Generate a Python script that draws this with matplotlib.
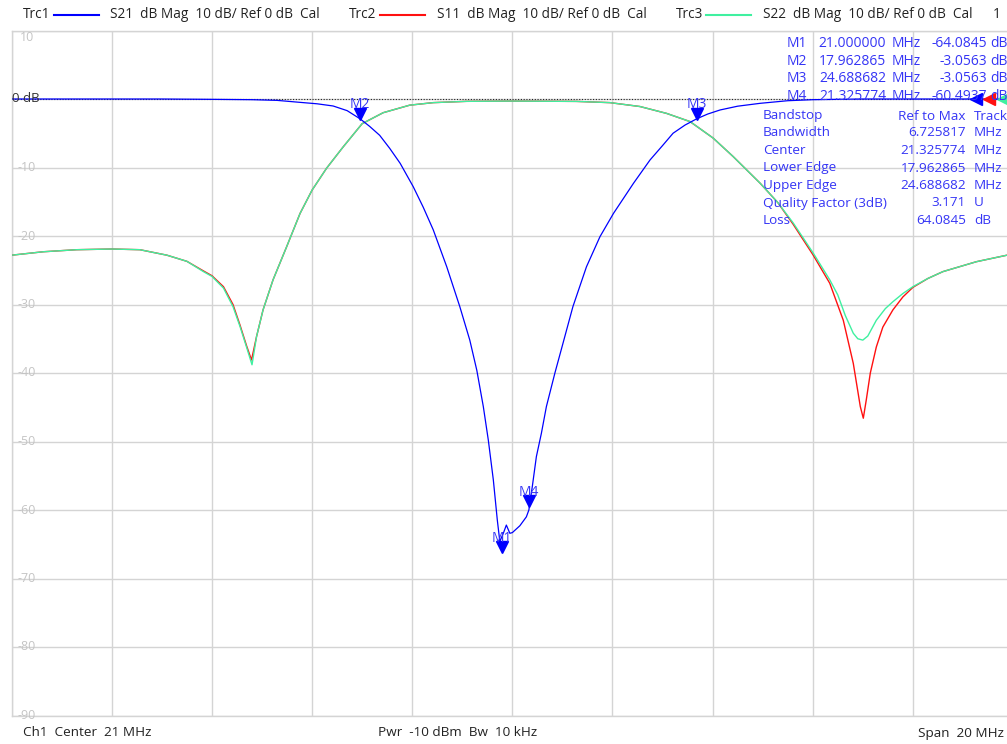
import numpy as np
import matplotlib
matplotlib.use("Agg")
import matplotlib.pyplot as plt
from matplotlib.lines import Line2D
from matplotlib.transforms import ScaledTranslation

plt.rcParams['font.family'] = ['Open Sans', 'DejaVu Sans']

# trace data (MHz, dB)
s21_f = [11.0, 12.0, 13.0, 14.0, 15.0, 15.8, 16.3, 16.76, 17.1, 17.42, 17.7, 17.96,
         18.15, 18.35, 18.55, 18.76, 19.02, 19.22, 19.42, 19.69, 19.95, 20.15, 20.29,
         20.42, 20.52, 20.62, 20.70, 20.75, 20.83, 20.88, 20.95, 21.00, 21.15, 21.28,
         21.33, 21.40, 21.48, 21.58, 21.68, 21.85, 22.01, 22.21, 22.48, 22.75, 23.02,
         23.42, 23.75, 24.0, 24.21, 24.45, 24.68, 24.9, 25.15, 25.5, 25.95, 26.5, 27.0,
         28.0, 29.0, 30.0, 31.0]
s21_db = [0.0, 0.0, 0.0, 0.0, -0.05, -0.1, -0.2, -0.49, -0.7, -1.02, -1.7, -2.9,
          -4.0, -5.3, -7.2, -9.4, -12.8, -15.8, -19.1, -24.5, -30.3, -35.2, -39.6,
          -44.9, -49.8, -55.6, -61.5, -64.6, -63.2, -62.2, -63.4, -63.3, -62.3, -61.0,
          -60.0, -56.5, -52.2, -48.8, -44.9, -40.0, -35.7, -30.3, -24.5, -20.1, -16.7,
          -12.3, -8.9, -6.8, -5.0, -3.8, -2.9, -2.2, -1.6, -1.05, -0.63, -0.25, -0.1,
          0.0, 0.0, 0.0, 0.0]

s11_f = [11.0, 11.63, 12.3, 13.0, 13.56, 14.1, 14.5, 14.83, 15.0, 15.23, 15.42, 15.56,
         15.69, 15.79, 15.89, 16.02, 16.22, 16.49, 16.76, 17.0, 17.29, 17.62, 18.0,
         18.42, 18.95, 19.42, 20.09, 21.0, 22.28, 22.95, 23.55, 24.08, 24.55, 25.01,
         25.41, 25.95, 26.3, 26.61, 27.01, 27.34, 27.61, 27.81, 27.95, 28.01, 28.07,
         28.15, 28.27, 28.4, 28.6, 28.8, 29.0, 29.3, 29.6, 30.27, 30.88, 31.0]
s11_db = [-22.8, -22.3, -22.0, -21.9, -22.0, -22.8, -23.7, -25.1, -25.8, -27.4, -30.0, -33.0,
          -36.0, -38.1, -34.7, -30.8, -26.4, -21.6, -16.7, -13.3, -10.1, -7.0, -3.6,
          -2.0, -0.9, -0.53, -0.34, -0.3, -0.35, -0.53, -1.1, -2.1, -3.3, -5.7,
          -8.4, -12.3, -15.1, -18.3, -22.8, -26.9, -32.3, -38.6, -44.9, -46.6, -43.9,
          -40.0, -36.2, -33.3, -30.8, -28.9, -27.5, -26.2, -25.2, -23.75, -22.8, -22.7]

s22_f = [11.0, 11.63, 12.3, 13.0, 13.56, 14.1, 14.5, 14.83, 15.0, 15.23, 15.42, 15.56,
         15.69, 15.8, 15.89, 16.02, 16.22, 16.49, 16.76, 17.0, 17.29, 17.62, 18.0,
         18.42, 18.95, 19.42, 20.09, 21.0, 22.28, 22.95, 23.55, 24.08, 24.55, 25.01,
         25.41, 25.95, 26.3, 26.61, 27.01, 27.34, 27.5, 27.65, 27.81, 27.9, 28.0, 28.1,
         28.27, 28.45, 28.6, 28.8, 29.0, 29.3, 29.6, 30.27, 30.88, 31.0]
s22_db = [-22.8, -22.3, -22.0, -21.9, -22.0, -22.8, -23.7, -25.2, -25.9, -27.6, -30.3, -33.2,
          -36.2, -38.8, -34.7, -30.8, -26.4, -21.6, -16.7, -13.3, -10.1, -7.0, -3.6,
          -2.0, -0.9, -0.53, -0.34, -0.3, -0.35, -0.53, -1.1, -2.1, -3.3, -5.7,
          -8.4, -12.3, -15.1, -18.1, -22.5, -26.4, -28.6, -31.6, -34.2, -35.0, -35.2, -34.6,
          -32.3, -30.6, -29.6, -28.4, -27.4, -26.2, -25.2, -23.75, -22.8, -22.7]

# markers as drawn on screen (tip of triangle)
mk_names = ["M1", "M2", "M3", "M4"]
mk_f = [20.80, 17.96, 24.69, 21.33]
mk_db = [-66.3, -3.05, -3.05, -59.6]

# marker readout table
tbl_name = ["M1", "M2", "M3", "M4"]
tbl_freq = ["21.000000", "17.962865", "24.688682", "21.325774"]
tbl_val = ["-64.0845", "-3.0563", "-3.0563", "-60.4937"]

bs_labels = ["Bandstop", "Bandwidth", "Center", "Lower Edge", "Upper Edge",
             "Quality Factor (3dB)", "Loss"]
bs_values = ["Ref to Max", "6.725817", "21.325774", "17.962865", "24.688682", "3.171", "64.0845"]
bs_units = ["Track", "MHz", "MHz", "MHz", "MHz", "U", "dB"]

y_ticks = [10, 0, -10, -20, -30, -40, -50, -60, -70, -80, -90]

BLUE = '#0000ff'
RED = '#ff1010'
GREEN = '#3ff0a0'
TXT_BLUE = '#3535f5'
GRID = '#d4d4d4'

W, H = 1007, 744
fig = plt.figure(figsize=(W / 100, H / 100), dpi=100)

def px(x, y):
    return x / W, 1 - y / H

# plot area: 11.7..1013 px wide (cut at the right), 30.5..715.5 px tall
ax = fig.add_axes([11.7 / W, 1 - 715.5 / H, 1001.3 / W, 685 / H])
ax.set_xlim(11, 31)
ax.set_ylim(-90, 10)
ax.set_xticks(np.arange(11, 32, 2))
ax.set_yticks(y_ticks)
ax.grid(True, color=GRID, lw=1.0)
ax.tick_params(length=0, labelbottom=False, labelleft=False)
for s in ax.spines.values():
    s.set_color(GRID)
    s.set_linewidth(1.0)
ax.set_axisbelow(True)

# reference line
ax.axhline(0, color='#222222', lw=0.8, ls=(0, (1, 1.5)), zorder=2)

ax.plot(s11_f, s11_db, color=RED, lw=1.0, zorder=3)
ax.plot(s22_f, s22_db, color=GREEN, lw=1.0, zorder=4)
ax.plot(s21_f, s21_db, color=BLUE, lw=0.9, zorder=5)

# y labels
for v in y_ticks[2:]:
    ax.text(0.006, v, str(v), transform=ax.get_yaxis_transform(),
            color='#c4c4c4', fontsize=9, va='center', ha='left')
ax.text(0.008, 9.0, "10", transform=ax.get_yaxis_transform(), color='#c4c4c4',
        fontsize=9, va='center', ha='left')
ax.text(0.0, 0, "0 dB", transform=ax.get_yaxis_transform(), color='#333333',
        fontsize=9.5, va='center', ha='left', zorder=6)

# markers
up = ScaledTranslation(0, 6 / 100, fig.dpi_scale_trans)
lab = ScaledTranslation(0, 15 / 100, fig.dpi_scale_trans)
for n, f, d in zip(mk_names, mk_f, mk_db):
    ax.plot([f], [d], marker='v', ms=8, color=BLUE, mec=BLUE, ls='none',
            transform=ax.transData + up, zorder=7, clip_on=False)
    ax.text(f, d, n, transform=ax.transData + lab, color=TXT_BLUE, fontsize=10,
            ha='center', va='center', zorder=7)

# reference level arrows at right edge
for xf, c in zip([0.9626, 0.9756, 0.9905], [BLUE, RED, GREEN]):
    ax.plot([xf], [0], marker='<', ms=8, color=c, ls='none',
            transform=ax.get_yaxis_transform(), zorder=8, clip_on=False)

# marker table
rows_y = [43.5, 61.5, 79, 96.5]
for i in range(4):
    y = rows_y[i]
    fig.text(*px(807, y), tbl_name[i], color=TXT_BLUE, fontsize=10, ha='right', va='center')
    fig.text(*px(886, y), tbl_freq[i], color=TXT_BLUE, fontsize=10, ha='right', va='center')
    fig.text(*px(892, y), "MHz", color=TXT_BLUE, fontsize=10, ha='left', va='center')
    fig.text(*px(987, y), tbl_val[i], color=TXT_BLUE, fontsize=10, ha='right', va='center')
    fig.text(*px(990, y), "dB", color=TXT_BLUE, fontsize=10, ha='left', va='center')

bs_y = [116, 133, 150.5, 168, 185.5, 203, 221]
for i in range(len(bs_labels)):
    y = bs_y[i]
    fig.text(*px(763, y), bs_labels[i], color=TXT_BLUE, fontsize=9.7, ha='left', va='center')
    fig.text(*px(966, y), bs_values[i], color=TXT_BLUE, fontsize=9.7, ha='right', va='center')
    fig.text(*px(974, y), bs_units[i], color=TXT_BLUE, fontsize=9.7, ha='left', va='center')

# header
hdr = [("Trc1", BLUE, "S21  dB Mag  10 dB/ Ref 0 dB  Cal", 23, 54, 99, 110),
       ("Trc2", RED, "S11  dB Mag  10 dB/ Ref 0 dB  Cal", 349, 380, 425, 437),
       ("Trc3", GREEN, "S22  dB Mag  10 dB/ Ref 0 dB  Cal", 676, 706, 751, 763)]
for name, c, desc, x0, l0, l1, x1 in hdr:
    fig.text(*px(x0, 15), name, color='#222222', fontsize=9.8, ha='left', va='center')
    fig.add_artist(Line2D([l0 / W, l1 / W], [1 - 15 / H, 1 - 15 / H], color=c, lw=1.5))
    fig.text(*px(x1, 15), desc, color='#222222', fontsize=9.8, ha='left', va='center')
fig.text(*px(993, 15), "1", color='#222222', fontsize=9.8, ha='left', va='center')

# footer
fig.text(*px(23, 733), "Ch1  Center  21 MHz", color='#222222', fontsize=9.7, ha='left', va='center')
fig.text(*px(378, 733), "Pwr  -10 dBm  Bw  10 kHz", color='#222222', fontsize=9.7, ha='left', va='center')
fig.text(*px(1004, 733), "Span  20 MHz", color='#222222', fontsize=9.7, ha='right', va='center')

fig.savefig("out.png", dpi=100)
